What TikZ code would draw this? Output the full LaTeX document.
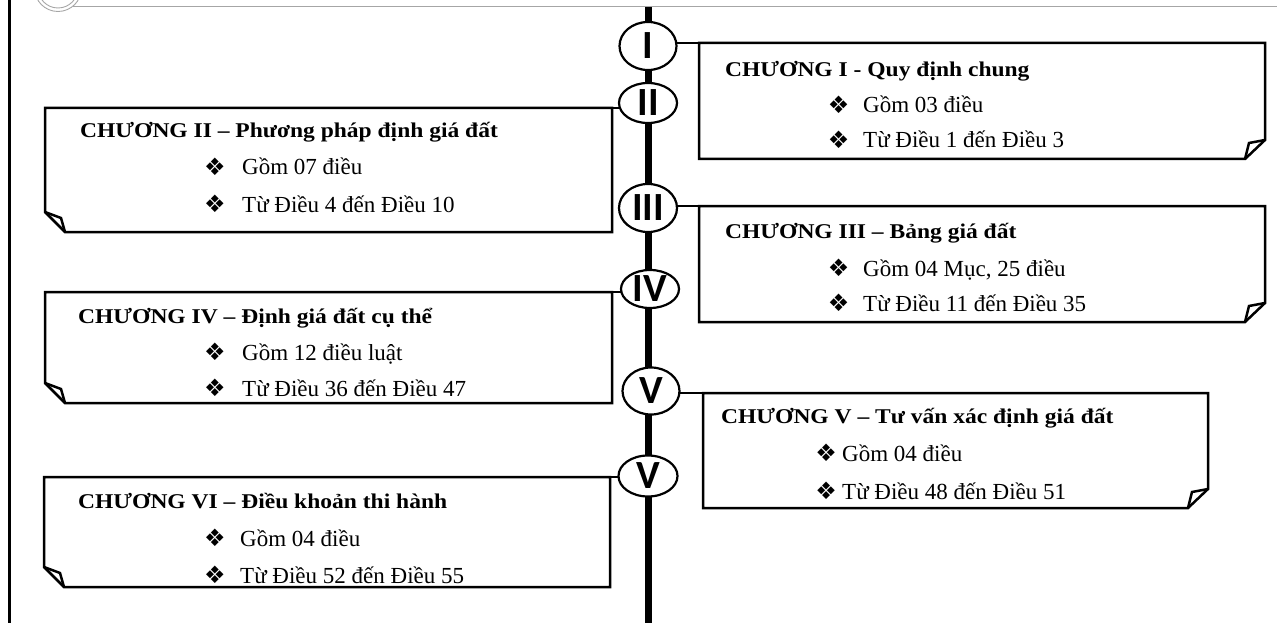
\documentclass[tikz,border=0pt]{standalone}
\usepackage{fontspec}
\setmainfont{Liberation Serif}
\newfontfamily\tfont{Liberation Serif}[FakeStretch=1.12]
\newfontfamily\rfont{Carlito}
\newfontfamily\symfont{DejaVu Sans}
\usetikzlibrary{shapes.geometric}
\pgfdeclarelayer{bg}
\pgfsetlayers{bg,main}
\tikzset{
  spine/.style={line width=7pt},
  conn/.style={line width=2.5pt},
  boxline/.style={line width=2.5pt, line join=miter},
  boxarea/.style={rectangle, inner sep=0pt, outer sep=0pt, anchor=north west},
  roman/.style={ellipse, draw, line width=2.2pt, fill=white, inner sep=0pt,
    font=\rfont\bfseries\fontsize{40}{40}\selectfont},
  ttl/.style={anchor=base west, inner sep=0pt, font=\tfont\bfseries\fontsize{21}{21}\selectfont},
  item/.style={anchor=base west, inner sep=0pt, font=\fontsize{23}{23}\selectfont},
  bul/.style={anchor=center, inner sep=0pt, font=\symfont\fontsize{24}{24}\selectfont},
  deco/.style={draw=black!35, line width=0.9pt}
}
\newcommand\curlR[1]{%
  \draw[boxline] (#1.north west) -- (#1.north east) -- ([yshift=19pt]#1.south east)
    -- ([xshift=-20pt]#1.south east) -- (#1.south west) -- cycle;
  \draw[boxline] ([yshift=19pt]#1.south east) -- ([xshift=-16pt,yshift=16pt]#1.south east)
    -- ([xshift=-20pt]#1.south east);}
\newcommand\curlL[1]{%
  \draw[boxline] (#1.north east) -- (#1.north west) -- ([yshift=20pt]#1.south west)
    -- ([xshift=20pt]#1.south west) -- (#1.south east) -- cycle;
  \draw[boxline] ([yshift=20pt]#1.south west) -- ([xshift=16pt,yshift=14pt]#1.south west)
    -- ([xshift=20pt]#1.south west);}
\begin{document}
\begin{tikzpicture}[x=1pt,y=-1pt]
\useasboundingbox (0,0) rectangle (1285,623);
% decoration at top
\begin{scope}
  \clip (0,0) rectangle (1285,623);
  \draw[deco] (58,-12) circle[radius=23.5];
  \draw[deco] (58,-12) circle[radius=20];
\end{scope}
\coordinate (dl) at (73,6);
\coordinate (dr) at (1277,6);
\draw[deco] (dl) -- (dr);
% left border
\coordinate (lt) at (9.5,0);
\coordinate (lb) at (9.5,623);
\draw[line width=2.5pt] (lt) -- (lb);

% roman numeral ellipses
\node[roman, minimum width=57pt, minimum height=48pt] (e1) at (648,46) {I};
\node[roman, minimum width=58pt, minimum height=40pt] (e2) at (648,103) {II};
\node[roman, minimum width=58pt, minimum height=48pt] (e3) at (648,208) {III};
\node[roman, minimum width=58pt, minimum height=38pt] (e4) at (650,289) {IV};
\node[roman, minimum width=57pt, minimum height=47pt] (e5) at (651,391) {V};
\node[roman, minimum width=59pt, minimum height=41pt] (e6) at (648,476) {V};

% box areas
\node[boxarea, minimum width=566pt, minimum height=116pt] (b1) at (699,43) {};
\node[boxarea, minimum width=567pt, minimum height=124pt] (b2) at (45,108) {};
\node[boxarea, minimum width=566pt, minimum height=116pt] (b3) at (699,206) {};
\node[boxarea, minimum width=567pt, minimum height=111pt] (b4) at (45,292) {};
\node[boxarea, minimum width=505pt, minimum height=115pt] (b5) at (703,393) {};
\node[boxarea, minimum width=566pt, minimum height=110pt] (b6) at (44,477) {};

\curlR{b1}
\curlL{b2}
\curlR{b3}
\curlL{b4}
\curlR{b5}
\curlL{b6}

% spine and connectors
\coordinate (st) at (648,6);
\coordinate (sb) at (648,623);
\begin{pgfonlayer}{bg}
  \draw[spine] (st) -- (sb);
  \draw[conn] (e1.center |- b1.north west) -- (b1.north west);
  \draw[conn] (e2.center |- b2.north east) -- (b2.north east);
  \draw[conn] (e3.center |- b3.north west) -- (b3.north west);
  \draw[conn] (e4.center |- b4.north east) -- (b4.north east);
  \draw[conn] (e5.center |- b5.north west) -- (b5.north west);
  \draw[conn] (e6.center |- b6.north east) -- (b6.north east);
\end{pgfonlayer}

% Box I
\node[ttl] (t1) at (725,77) {CHƯƠNG I - Quy định chung};
\node[bul] (u1a) at (838.5,105) {❖};
\node[item] (i1a) at (863,113) {Gồm 03 điều};
\node[bul] (u1b) at (838.5,140) {❖};
\node[item] (i1b) at (863,148) {Từ Điều 1 đến Điều 3};
% Box II
\node[ttl] (t2) at (80,138) {CHƯƠNG II – Phương pháp định giá đất};
\node[bul] (u2a) at (215,167) {❖};
\node[item] (i2a) at (242,175) {Gồm 07 điều};
\node[bul] (u2b) at (215,204) {❖};
\node[item] (i2b) at (242,212) {Từ Điều 4 đến Điều 10};
% Box III
\node[ttl] (t3) at (725,238) {CHƯƠNG III – Bảng giá đất};
\node[bul] (u3a) at (838.5,268) {❖};
\node[item] (i3a) at (863,276) {Gồm 04 Mục, 25 điều};
\node[bul] (u3b) at (838.5,303) {❖};
\node[item] (i3b) at (863,311) {Từ Điều 11 đến Điều 35};
% Box IV
\node[ttl] (t4) at (78,323) {CHƯƠNG IV – Định giá đất cụ thể};
\node[bul] (u4a) at (215,352) {❖};
\node[item] (i4a) at (242,360) {Gồm 12 điều luật};
\node[bul] (u4b) at (215,388) {❖};
\node[item] (i4b) at (242,396) {Từ Điều 36 đến Điều 47};
% Box V
\node[ttl] (t5) at (721,423) {CHƯƠNG V – Tư vấn xác định giá đất};
\node[bul] (u5a) at (826,453) {❖};
\node[item] (i5a) at (842,461) {Gồm 04 điều};
\node[bul] (u5b) at (826,491) {❖};
\node[item] (i5b) at (842,499) {Từ Điều 48 đến Điều 51};
% Box VI
\node[ttl] (t6) at (78,508) {CHƯƠNG VI – Điều khoản thi hành};
\node[bul] (u6a) at (215,538) {❖};
\node[item] (i6a) at (240,546) {Gồm 04 điều};
\node[bul] (u6b) at (215,575) {❖};
\node[item] (i6b) at (240,583) {Từ Điều 52 đến Điều 55};
\end{tikzpicture}
\end{document}
